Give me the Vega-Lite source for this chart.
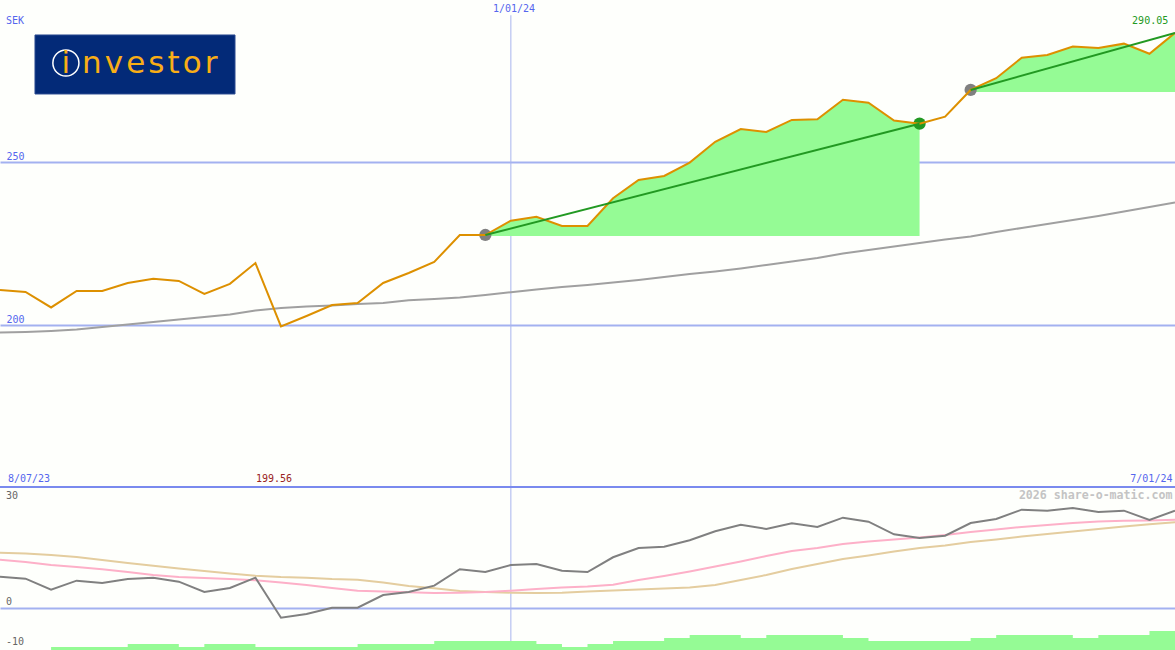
{
  "$schema": "https://vega.github.io/schema/vega-lite/v6.json",
  "background": "#fefffc",
  "padding": 0,
  "autosize": "none",
  "width": 1175,
  "height": 650,
  "config": {
    "view": {"stroke": null},
    "text": {"font": "DejaVu Sans Mono", "fontSize": 10, "align": "left", "baseline": "middle"}
  },
  "datasets": {
    "weekly": [
      {"week":0,"price":210.74,"ma":197.7,"mom":7.83,"fast":12.08,"slow":13.83,"vol":-10.5},
      {"week":1,"price":210.12,"ma":197.85,"mom":7.33,"fast":11.5,"slow":13.63,"vol":-10.5},
      {"week":2,"price":205.37,"ma":198.16,"mom":4.58,"fast":10.75,"slow":13.25,"vol":-9.75},
      {"week":3,"price":210.43,"ma":198.62,"mom":6.83,"fast":10.25,"slow":12.75,"vol":-9.75},
      {"week":4,"price":210.43,"ma":199.39,"mom":6.25,"fast":9.68,"slow":12.0,"vol":-9.75},
      {"week":5,"price":212.88,"ma":200.15,"mom":7.25,"fast":9.0,"slow":11.25,"vol":-9},
      {"week":6,"price":214.2,"ma":200.92,"mom":7.58,"fast":8.25,"slow":10.58,"vol":-9},
      {"week":7,"price":213.5,"ma":201.69,"mom":6.58,"fast":7.75,"slow":9.88,"vol":-9.75},
      {"week":8,"price":209.5,"ma":202.45,"mom":4.0,"fast":7.5,"slow":9.25,"vol":-9},
      {"week":9,"price":212.6,"ma":203.22,"mom":5.0,"fast":7.25,"slow":8.63,"vol":-9},
      {"week":10,"price":219.0,"ma":204.45,"mom":7.58,"fast":6.93,"slow":8.08,"vol":-9.75},
      {"week":11,"price":199.56,"ma":205.21,"mom":-2.43,"fast":6.38,"slow":7.75,"vol":-9.75},
      {"week":12,"price":202.76,"ma":205.67,"mom":-1.5,"fast":5.75,"slow":7.58,"vol":-9.75},
      {"week":13,"price":206.13,"ma":205.98,"mom":0.08,"fast":5.0,"slow":7.25,"vol":-9.75},
      {"week":14,"price":206.75,"ma":206.44,"mom":0.08,"fast":4.33,"slow":7.08,"vol":-9},
      {"week":15,"price":212.88,"ma":206.75,"mom":3.25,"fast":4.13,"slow":6.38,"vol":-9},
      {"week":16,"price":215.95,"ma":207.61,"mom":4.0,"fast":3.93,"slow":5.5,"vol":-9},
      {"week":17,"price":219.33,"ma":207.98,"mom":5.58,"fast":3.75,"slow":4.93,"vol":-8.25},
      {"week":18,"price":227.6,"ma":208.44,"mom":9.68,"fast":3.83,"slow":4.25,"vol":-8.25},
      {"week":19,"price":227.6,"ma":209.2,"mom":9.0,"fast":4.0,"slow":4.0,"vol":-8.25,"entry":227.3},
      {"week":20,"price":232.0,"ma":210.03,"mom":10.75,"fast":4.33,"slow":3.83,"vol":-8.25,"entry":227.3},
      {"week":21,"price":233.2,"ma":210.89,"mom":11.0,"fast":4.75,"slow":3.75,"vol":-9,"entry":227.3},
      {"week":22,"price":230.37,"ma":211.66,"mom":9.33,"fast":5.13,"slow":3.83,"vol":-9.75,"entry":227.3},
      {"week":23,"price":230.37,"ma":212.27,"mom":9.0,"fast":5.38,"slow":4.13,"vol":-9,"entry":227.3},
      {"week":24,"price":238.87,"ma":213.04,"mom":12.68,"fast":5.83,"slow":4.38,"vol":-8.25,"entry":227.3},
      {"week":25,"price":244.48,"ma":213.8,"mom":15.0,"fast":7.0,"slow":4.63,"vol":-8.25,"entry":227.3},
      {"week":26,"price":245.7,"ma":214.72,"mom":15.33,"fast":8.0,"slow":4.88,"vol":-7.5,"entry":227.3},
      {"week":27,"price":249.8,"ma":215.64,"mom":16.93,"fast":9.13,"slow":5.13,"vol":-6.75,"entry":227.3},
      {"week":28,"price":256.2,"ma":216.41,"mom":19.18,"fast":10.38,"slow":5.75,"vol":-6.75,"entry":227.3},
      {"week":29,"price":260.1,"ma":217.33,"mom":20.83,"fast":11.63,"slow":7.0,"vol":-7.5,"entry":227.3},
      {"week":30,"price":259.2,"ma":218.4,"mom":19.75,"fast":13.0,"slow":8.25,"vol":-6.75,"entry":227.3},
      {"week":31,"price":262.9,"ma":219.48,"mom":21.18,"fast":14.25,"slow":9.75,"vol":-6.75,"entry":227.3},
      {"week":32,"price":263.1,"ma":220.55,"mom":20.25,"fast":15.0,"slow":11.0,"vol":-6.75,"entry":227.3},
      {"week":33,"price":269.1,"ma":221.93,"mom":22.58,"fast":16.0,"slow":12.25,"vol":-7.5,"entry":227.3},
      {"week":34,"price":268.2,"ma":223.0,"mom":21.58,"fast":16.63,"slow":13.13,"vol":-8.25,"entry":227.3},
      {"week":35,"price":262.7,"ma":224.08,"mom":18.43,"fast":17.13,"slow":14.13,"vol":-8.25,"entry":227.3},
      {"week":36,"price":261.75,"ma":225.15,"mom":17.5,"fast":17.63,"slow":15.0,"vol":-8.25,"entry":227.3},
      {"week":37,"price":263.9,"ma":226.23,"mom":18.08,"fast":18.25,"slow":15.63,"vol":-8.25},
      {"week":38,"price":272.1,"ma":227.15,"mom":21.25,"fast":19.0,"slow":16.5,"vol":-7.5,"entry":271.47},
      {"week":39,"price":275.7,"ma":228.53,"mom":22.25,"fast":19.63,"slow":17.13,"vol":-6.75,"entry":271.47},
      {"week":40,"price":282.0,"ma":229.75,"mom":24.58,"fast":20.25,"slow":17.88,"vol":-6.75,"entry":271.47},
      {"week":41,"price":282.8,"ma":230.98,"mom":24.33,"fast":20.75,"slow":18.5,"vol":-6.75,"entry":271.47},
      {"week":42,"price":285.4,"ma":232.21,"mom":25.0,"fast":21.25,"slow":19.13,"vol":-7.5,"entry":271.47},
      {"week":43,"price":285.0,"ma":233.44,"mom":24.0,"fast":21.63,"slow":19.75,"vol":-6.75,"entry":271.47},
      {"week":44,"price":286.3,"ma":234.82,"mom":24.33,"fast":21.8,"slow":20.38,"vol":-6.75,"entry":271.47},
      {"week":45,"price":283.2,"ma":236.2,"mom":22.0,"fast":21.88,"slow":20.93,"vol":-5.75,"entry":271.47},
      {"week":46,"price":289.6,"ma":237.58,"mom":24.33,"fast":22.08,"slow":21.43,"vol":-5.75,"entry":271.47}
    ],
    "trades": [
      {"trade":1,"week":19,"price":227.6,"marker":"open"},
      {"trade":1,"week":36,"price":261.75,"marker":"win"},
      {"trade":2,"week":38,"price":272.1,"marker":"open"},
      {"trade":2,"week":46,"price":289.6,"marker":"none"}
    ],
    "notes": [
      {"label":"SEK","week":0.235,"price":293.25,"kind":"scale"},
      {"label":"1/01/24","week":19.3,"price":296.93,"kind":"scale"},
      {"label":"290.05","week":44.32,"price":293.25,"kind":"last"},
      {"label":"8/07/23","week":0.31,"price":152.76,"kind":"scale"},
      {"label":"199.56","week":10.02,"price":152.76,"kind":"low"},
      {"label":"7/01/24","week":44.25,"price":152.76,"kind":"scale"}
    ],
    "momNotes": [
      {"label":"30","week":0.235,"mom":28},
      {"label":"0","week":0.235,"mom":1.5},
      {"label":"-10","week":0.235,"mom":-8.5}
    ]
  },
  "encoding": {
    "x": {"field": "week", "type": "quantitative", "scale": {"domain": [0, 46], "nice": false}, "axis": null}
  },
  "layer": [
    {
      "layer": [
        {
          "data": {"values": [{"week": 20, "price": 295, "low": 100.29}]},
          "mark": {"type": "rule", "color": "#a8b4ee", "strokeWidth": 1},
          "encoding": {
            "y": {
              "field": "price",
              "type": "quantitative",
              "scale": {"domain": [100.29, 299.69], "nice": false},
              "axis": {
                "values": [200, 250],
                "title": null,
                "domain": false,
                "ticks": false,
                "grid": true,
                "gridColor": "#a3b1f0",
                "gridWidth": 2,
                "labelAlign": "left",
                "labelBaseline": "alphabetic",
                "labelPadding": -6,
                "labelOffset": -2,
                "labelFont": "DejaVu Sans Mono",
                "labelFontSize": 10,
                "labelColor": "#5566ee",
                "labelBound": false,
                "labelFlush": false
              }
            },
            "y2": {"field": "low"}
          }
        },
        {
          "data": {"name": "weekly"},
          "mark": {"type": "line", "color": "#a0a0a0", "strokeWidth": 2},
          "encoding": {"y": {"field": "ma", "type": "quantitative"}}
        },
        {
          "data": {"name": "weekly"},
          "transform": [{"filter": "isValid(datum.entry)"}],
          "mark": {"type": "area", "color": "#95fb95", "opacity": 1},
          "encoding": {
            "y": {"field": "price", "type": "quantitative"},
            "y2": {"field": "entry"},
            "detail": {"field": "entry"}
          }
        },
        {
          "data": {"name": "trades"},
          "transform": [{"filter": "datum.marker != 'none'"}],
          "mark": {"type": "point", "shape": "circle", "filled": true, "opacity": 1, "size": 150},
          "encoding": {
            "y": {"field": "price", "type": "quantitative"},
            "color": {
              "field": "marker",
              "type": "nominal",
              "scale": {"domain": ["open", "win", "scale", "last", "low"], "range": ["#808080", "#229922", "#5566ee", "#229922", "#992222"]},
              "legend": null
            }
          }
        },
        {
          "data": {"name": "weekly"},
          "mark": {"type": "line", "color": "#dd9000", "strokeWidth": 2},
          "encoding": {"y": {"field": "price", "type": "quantitative"}}
        },
        {
          "data": {"name": "trades"},
          "mark": {"type": "line", "color": "#229922", "strokeWidth": 2},
          "encoding": {
            "y": {"field": "price", "type": "quantitative"},
            "detail": {"field": "trade"}
          }
        },
        {
          "data": {"values": [{"week": 0, "week2": 46, "price": 150.31}]},
          "mark": {"type": "rule", "color": "#7a8aee", "strokeWidth": 2},
          "encoding": {
            "x2": {"field": "week2"},
            "y": {"field": "price", "type": "quantitative"}
          }
        },
        {
          "data": {"values": [{"week": 1.37, "week2": 9.2, "price": 288.96, "low": 270.86}]},
          "mark": {"type": "rect", "color": "#032a78", "stroke": "#2a4a90", "strokeWidth": 1},
          "encoding": {
            "x2": {"field": "week2"},
            "y": {"field": "price", "type": "quantitative"},
            "y2": {"field": "low"}
          }
        },
        {
          "data": {"values": [{"week": 2.58, "price": 280.37}]},
          "mark": {"type": "point", "shape": "circle", "filled": false, "color": "#ffffff", "strokeWidth": 1.5, "size": 680, "opacity": 1},
          "encoding": {"y": {"field": "price", "type": "quantitative"}}
        },
        {
          "data": {"values": [{"label": "i", "week": 2.58, "price": 277.3}]},
          "mark": {"type": "text", "font": "DejaVu Sans", "fontSize": 31, "align": "center", "baseline": "alphabetic", "color": "#f9ae16"},
          "encoding": {
            "y": {"field": "price", "type": "quantitative"},
            "text": {"field": "label"}
          }
        },
        {
          "data": {"values": [{"label": "n\u200av\u200ae\u200as\u200at\u200ao\u200ar", "week": 3.21, "price": 277.3}]},
          "mark": {"type": "text", "font": "DejaVu Sans", "fontSize": 31, "baseline": "alphabetic", "color": "#f9ae16"},
          "encoding": {
            "y": {"field": "price", "type": "quantitative"},
            "text": {"field": "label"}
          }
        },
        {
          "data": {"name": "notes"},
          "mark": {"type": "text"},
          "encoding": {
            "y": {"field": "price", "type": "quantitative"},
            "text": {"field": "label"},
            "color": {"field": "kind", "type": "nominal", "legend": null}
          }
        }
      ]
    },
    {
      "data": {"name": "weekly"},
      "layer": [
        {
          "mark": {"type": "area", "color": "#95fb95", "opacity": 1, "interpolate": "step-after"},
          "encoding": {
            "y": {
              "field": "vol",
              "type": "quantitative",
              "scale": {"domain": [-10.5, 152], "nice": false},
              "axis": {
                "values": [0],
                "title": null,
                "labels": false,
                "domain": false,
                "ticks": false,
                "grid": true,
                "gridColor": "#a3b1f0",
                "gridWidth": 2
              }
            },
            "y2": {"datum": -10.5}
          }
        },
        {
          "mark": {"type": "line", "color": "#e4cd9f", "strokeWidth": 2},
          "encoding": {"y": {"field": "slow", "type": "quantitative"}}
        },
        {
          "mark": {"type": "line", "color": "#fdb0c8", "strokeWidth": 2},
          "encoding": {"y": {"field": "fast", "type": "quantitative"}}
        },
        {
          "mark": {"type": "line", "color": "#808080", "strokeWidth": 2},
          "encoding": {"y": {"field": "mom", "type": "quantitative"}}
        },
        {
          "data": {"name": "momNotes"},
          "mark": {"type": "text", "color": "#666666"},
          "encoding": {
            "y": {"field": "mom", "type": "quantitative"},
            "text": {"field": "label"}
          }
        },
        {
          "data": {"values": [{"label": "2026 share-o-matic.com", "week": 45.9, "mom": 28}]},
          "mark": {"type": "text", "color": "#c4c4c4", "fontWeight": "bold", "fontSize": 11.6, "align": "right"},
          "encoding": {
            "y": {"field": "mom", "type": "quantitative"},
            "text": {"field": "label"}
          }
        }
      ]
    }
  ],
  "resolve": {"scale": {"y": "independent"}}
}
